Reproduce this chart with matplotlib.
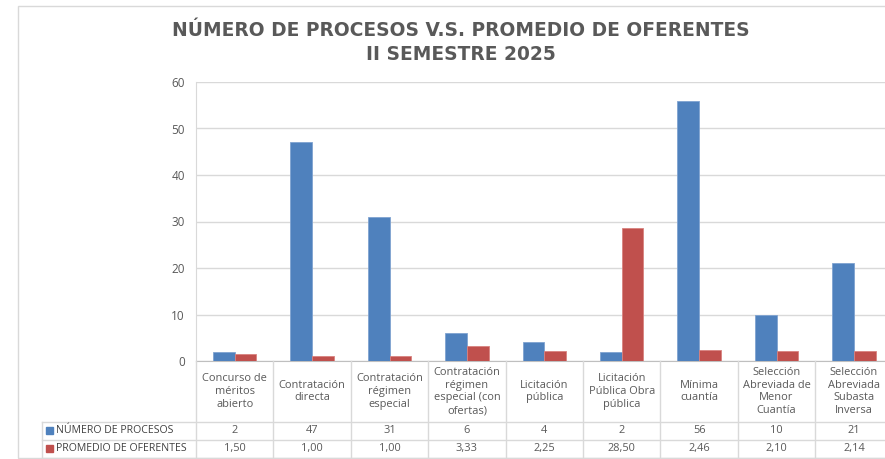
import matplotlib
matplotlib.use("Agg")
import matplotlib.pyplot as plt
from matplotlib import transforms
from matplotlib.patches import Rectangle
from matplotlib.lines import Line2D

categories = [
    "Concurso de\nméritos\nabierto",
    "Contratación\ndirecta",
    "Contratación\nrégimen\nespecial",
    "Contratación\nrégimen\nespecial (con\nofertas)",
    "Licitación\npública",
    "Licitación\nPública Obra\npública",
    "Mínima\ncuantía",
    "Selección\nAbreviada de\nMenor\nCuantía",
    "Selección\nAbreviada\nSubasta\nInversa",
]
series_names = ["NÚMERO DE PROCESOS", "PROMEDIO DE OFERENTES"]
num_procesos = [2, 47, 31, 6, 4, 2, 56, 10, 21]
promedio_oferentes = [1.50, 1.00, 1.00, 3.33, 2.25, 28.50, 2.46, 2.10, 2.14]
colors = ["#4F81BD", "#C0504D"]
title_lines = ["NÚMERO DE PROCESOS V.S. PROMEDIO DE OFERENTES", "II SEMESTRE 2025"]

W, H = 885, 459
fig = plt.figure(figsize=(W / 100, H / 100), dpi=100)
fig.patch.set_facecolor("white")

def fx(px):
    return px / W

def fy(py):
    return 1 - py / H

# outer border
fig.add_artist(Rectangle((fx(18), fy(458)), fx(900) - fx(18), fy(6) - fy(458),
                         transform=fig.transFigure, fill=False,
                         edgecolor="#d9d9d9", linewidth=1.0))

ax_left, ax_right, ax_top, ax_bot = 196, 892.6, 82, 361
ax = fig.add_axes([fx(ax_left), fy(ax_bot), fx(ax_right) - fx(ax_left), fy(ax_top) - fy(ax_bot)])
n = len(categories)
xs = list(range(n))
bw = 0.28
ax.bar([x - bw / 2 for x in xs], num_procesos, width=bw, color=colors[0],
       edgecolor="#7fa3d1", linewidth=0.6, zorder=3)
ax.bar([x + bw / 2 for x in xs], promedio_oferentes, width=bw, color=colors[1],
       edgecolor="#d9827f", linewidth=0.6, zorder=3)
ax.set_xlim(-0.5, n - 0.5)
ax.set_ylim(0, 60)
ax.set_yticks(range(0, 61, 10))
ax.yaxis.grid(True, color="#d9d9d9", linewidth=1.0, zorder=0)
ax.set_xticks([])
for s in ["top", "right"]:
    ax.spines[s].set_visible(False)
ax.spines["left"].set_color("#d9d9d9")
ax.spines["bottom"].set_color("#bfbfbf")
ax.tick_params(axis="y", length=0, labelsize=8.5, labelcolor="#595959", pad=8)
for lbl in ax.get_yticklabels():
    lbl.set_fontfamily("Open Sans")

title_kw = dict(ha="center", va="center", fontsize=13.4, fontweight="bold",
                color="#595959", family="DejaVu Sans")
fig.text(fx(461), fy(30), title_lines[0], **title_kw)
fig.text(fx(461), fy(55), title_lines[1], **title_kw)

# data table under the axes
tr = transforms.blended_transform_factory(ax.transData, fig.transFigure)
row_y = [361, 422, 439.5, 458]
line_kw = dict(color="#d9d9d9", linewidth=1.0)
for i in range(n + 1):
    xb = i - 0.5
    fig.add_artist(Line2D([xb, xb], [fy(row_y[0]), fy(row_y[3])], transform=tr, **line_kw))
for yy in row_y[1:]:
    fig.add_artist(Line2D([fx(42), fx(ax_right)], [fy(yy), fy(yy)], transform=fig.transFigure, **line_kw))
fig.add_artist(Line2D([fx(42), fx(42)], [fy(row_y[1]), fy(row_y[3])], transform=fig.transFigure, **line_kw))

txt_kw = dict(ha="center", va="center", fontsize=7.9, color="#595959", family="Open Sans")
for i, cat in enumerate(categories):
    fig.text(i, fy((row_y[0] + row_y[1]) / 2), cat, transform=tr, linespacing=1.22, **txt_kw)
    fig.text(i, fy((row_y[1] + row_y[2]) / 2), str(num_procesos[i]), transform=tr, **txt_kw)
    fig.text(i, fy((row_y[2] + row_y[3]) / 2), f"{promedio_oferentes[i]:.2f}".replace(".", ","),
             transform=tr, **txt_kw)

for k, name in enumerate(series_names):
    yc = (row_y[1 + k] + row_y[2 + k]) / 2
    fig.add_artist(Rectangle((fx(46), fy(yc + 3.5)), fx(7), fy(yc - 3.5) - fy(yc + 3.5),
                             transform=fig.transFigure, color=colors[k]))
    fig.text(fx(56), fy(yc), name, ha="left", va="center", fontsize=7.6,
             color="#404040", family="Open Sans")

fig.savefig("out.png", dpi=100)
